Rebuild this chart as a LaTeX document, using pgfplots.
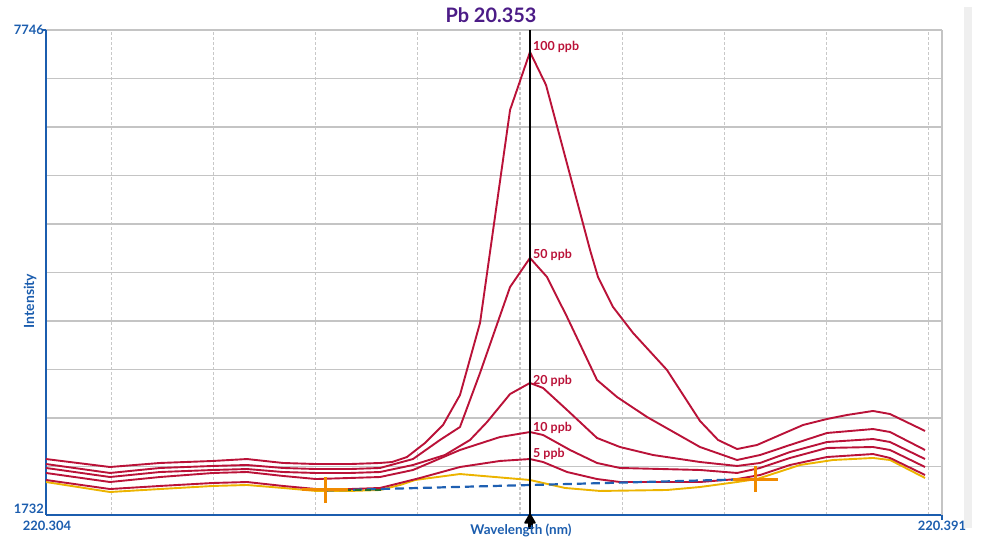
\documentclass[border=0pt]{standalone}
\usepackage{fontspec}
\setmainfont{Lato}
\usepackage{pgfplots}
\pgfplotsset{compat=1.18}
\definecolor{specred}{RGB}{186,18,56}
\definecolor{blankyel}{RGB}{236,180,0}
\definecolor{axblue}{RGB}{27,93,174}
\definecolor{bkgblue}{RGB}{31,96,178}
\definecolor{titlepurple}{RGB}{76,28,135}
\definecolor{crossorange}{RGB}{240,138,0}
\definecolor{fitgreen}{RGB}{40,110,40}
\definecolor{gridh}{RGB}{196,196,196}
\definecolor{gridv}{RGB}{200,200,200}
\definecolor{scroll}{RGB}{239,239,239}
\begin{document}
\begin{tikzpicture}[x=1bp,y=1bp]
\path[use as bounding box] (0,0) rectangle (982,539);
% scroll bar at the right
\fill[scroll] (964,11) rectangle (972,532);
\begin{axis}[
  at={(46bp,24bp)}, anchor=south west,
  scale only axis, width=896bp, height=485bp,
  xmin=220.3036, xmax=220.3913,
  ymin=1732, ymax=7746,
  axis x line*=bottom, axis y line*=left,
  axis line style={axblue, line width=2bp},
  xtick={220.31,220.32,220.33,220.34,220.35,220.36,220.37,220.38,220.39},
  ytick={1732,2333.4,2934.8,3536.2,4137.6,4739,5340.4,5941.8,6543.2,7144.6,7746},
  xticklabels={}, yticklabels={},
  major tick length=0pt,
  xmajorgrids, ymajorgrids,
  x grid style={gridv, line width=1.2bp, dash pattern=on 3bp off 2bp},
  y grid style={gridh, line width=1.6bp},
  clip=false,
  every axis plot/.append style={line width=1.9bp, line join=round},
]
% blank
\addplot[blankyel, mark=none] coordinates {
(220.30360,2141) (220.30986,2017) (220.31476,2054) (220.31995,2092)
(220.32327,2104) (220.32680,2067) (220.33003,2030) (220.33336,2030)
(220.33629,2042) (220.33825,2104) (220.33972,2166) (220.34412,2240)
(220.35097,2166) (220.35440,2067) (220.35783,2030) (220.36438,2042)
(220.36761,2079) (220.37124,2141) (220.37319,2178) (220.37740,2352)
(220.38063,2414) (220.38455,2439) (220.38621,2414) (220.38964,2191)};
% 5 ppb
\addplot[specred, mark=none] coordinates {
(220.30360,2166) (220.30986,2054) (220.31476,2092) (220.31995,2129)
(220.32327,2141) (220.32680,2092) (220.33003,2054) (220.33336,2054)
(220.33629,2067) (220.34021,2191) (220.34412,2327) (220.34804,2402)
(220.35097,2426) (220.35225,2389) (220.35460,2265) (220.35753,2178)
(220.35978,2141) (220.36761,2141) (220.37124,2178) (220.37349,2228)
(220.37642,2352) (220.38004,2451) (220.38455,2488) (220.38621,2439)
(220.38964,2228)};
% 10 ppb
\addplot[specred, mark=none] coordinates {
(220.30360,2253) (220.30986,2141) (220.31476,2203) (220.31995,2253)
(220.32327,2265) (220.32680,2216) (220.33003,2178) (220.33336,2191)
(220.33629,2203) (220.33952,2290) (220.34412,2538) (220.34804,2699)
(220.35097,2761) (220.35225,2724) (220.35489,2538) (220.35753,2377)
(220.35978,2315) (220.36761,2290) (220.37124,2253) (220.37349,2315)
(220.37642,2439) (220.38004,2563) (220.38455,2575) (220.38621,2538)
(220.38964,2327)};
% 20 ppb
\addplot[specred, mark=none] coordinates {
(220.30360,2315) (220.30986,2203) (220.31476,2265) (220.31995,2290)
(220.32327,2302) (220.32680,2265) (220.33003,2253) (220.33336,2253)
(220.33629,2265) (220.33952,2352) (220.34265,2476) (220.34510,2662)
(220.34677,2885) (220.34902,3232) (220.35097,3369) (220.35225,3307)
(220.35460,3034) (220.35753,2687) (220.35978,2575) (220.36301,2476)
(220.36761,2389) (220.37124,2340) (220.37349,2377) (220.37642,2513)
(220.38004,2637) (220.38455,2674) (220.38621,2637) (220.38964,2426)};
% 50 ppb
\addplot[specred, mark=none] coordinates {
(220.30360,2364) (220.30986,2253) (220.31476,2315) (220.31995,2340)
(220.32327,2352) (220.32680,2315) (220.33003,2302) (220.33336,2302)
(220.33629,2315) (220.33952,2426) (220.34216,2662) (220.34412,2823)
(220.34608,3493) (220.34902,4559) (220.35097,4919) (220.35264,4683)
(220.35460,4187) (220.35753,3406) (220.35949,3195) (220.36243,2947)
(220.36761,2575) (220.37124,2414) (220.37349,2476) (220.37642,2600)
(220.38004,2749) (220.38455,2798) (220.38621,2761) (220.38964,2538)};
% 100 ppb
\addplot[specred, mark=none] coordinates {
(220.30360,2426) (220.30986,2327) (220.31476,2377) (220.31995,2402)
(220.32327,2426) (220.32680,2377) (220.33003,2364) (220.33336,2364)
(220.33629,2377) (220.33747,2389) (220.33893,2451) (220.34070,2625)
(220.34246,2848) (220.34412,3220) (220.34608,4113) (220.34902,6754)
(220.35097,7473) (220.35254,7064) (220.35685,5018) (220.35763,4683)
(220.35910,4311) (220.36106,3989) (220.36438,3530) (220.36761,2898)
(220.36938,2662) (220.37124,2550) (220.37319,2600) (220.37544,2724)
(220.37770,2848) (220.38004,2922) (220.38200,2972) (220.38455,3022)
(220.38621,2984) (220.38964,2774)};
% background correction
\addplot[bkgblue, mark=none, line width=2.2bp, dash pattern=on 9bp off 5bp] coordinates {
(220.33091,2036) (220.37300,2178)};
% fit points
\addplot[fitgreen, mark=none, line width=2.2bp, dash pattern=on 6bp off 4bp] coordinates {
(220.33091,2042) (220.33649,2042)};
\addplot[fitgreen, mark=none, line width=2.2bp, dash pattern=on 6bp off 4bp] coordinates {
(220.37084,2178) (220.37300,2178)};
% crosses
\addplot[crossorange, mark=none, line width=3bp] coordinates {(220.32866,2042) (220.33316,2042)};
\addplot[crossorange, mark=none, line width=3bp] coordinates {(220.33091,2203) (220.33091,1881)};
\addplot[crossorange, mark=none, line width=3bp] coordinates {(220.37084,2178) (220.37525,2178)};
\addplot[crossorange, mark=none, line width=3bp] coordinates {(220.37300,2340) (220.37300,2017)};
% peak cursor
\addplot[black, mark=none, line width=2bp] coordinates {(220.35097,1732) (220.35097,7746)};
\addplot[black, only marks, mark=triangle*, mark size=5.5bp,
  mark options={yshift=-5bp}] coordinates {(220.35097,1732)};
\end{axis}
% right border and small ticks
\draw[gridh, line width=2bp] (942,24) -- (942,509);
\draw[axblue, line width=1.5bp] (42,509) -- (46,509);
\draw[axblue, line width=1.5bp] (942,24) -- (942,19);
\fill[black] (527.5,10) rectangle (532.5,17);
% texts
\node[titlepurple, font=\fontsize{20}{24}\selectfont\bfseries] at (491,524) {Pb 20.353};
\node[axblue, anchor=east, inner sep=0pt, font=\fontsize{13}{15}\selectfont\bfseries] at (44,509) {7746};
\node[axblue, anchor=east, inner sep=0pt, font=\fontsize{13}{15}\selectfont\bfseries] at (44,30) {1732};
\node[axblue, inner sep=0pt, font=\fontsize{13}{15}\selectfont\bfseries] at (47,13) {220.304};
\node[axblue, inner sep=0pt, font=\fontsize{13}{15}\selectfont\bfseries] at (942,13) {220.391};
\node[axblue, inner sep=0pt, font=\fontsize{13.5}{16}\selectfont\bfseries] at (521,9) {Wavelength (nm)};
\node[axblue, inner sep=0pt, rotate=90, font=\fontsize{14}{16}\selectfont\bfseries] at (30,238) {Intensity};
\begin{scope}[every node/.style={specred, anchor=west, inner sep=0pt, font=\fontsize{12.5}{15}\selectfont\bfseries}]
\node at (533,492) {100 ppb};
\node at (533,284) {50 ppb};
\node at (533,158) {20 ppb};
\node at (533,111) {10 ppb};
\node at (533,85) {5 ppb};
\end{scope}
\end{tikzpicture}
\end{document}
